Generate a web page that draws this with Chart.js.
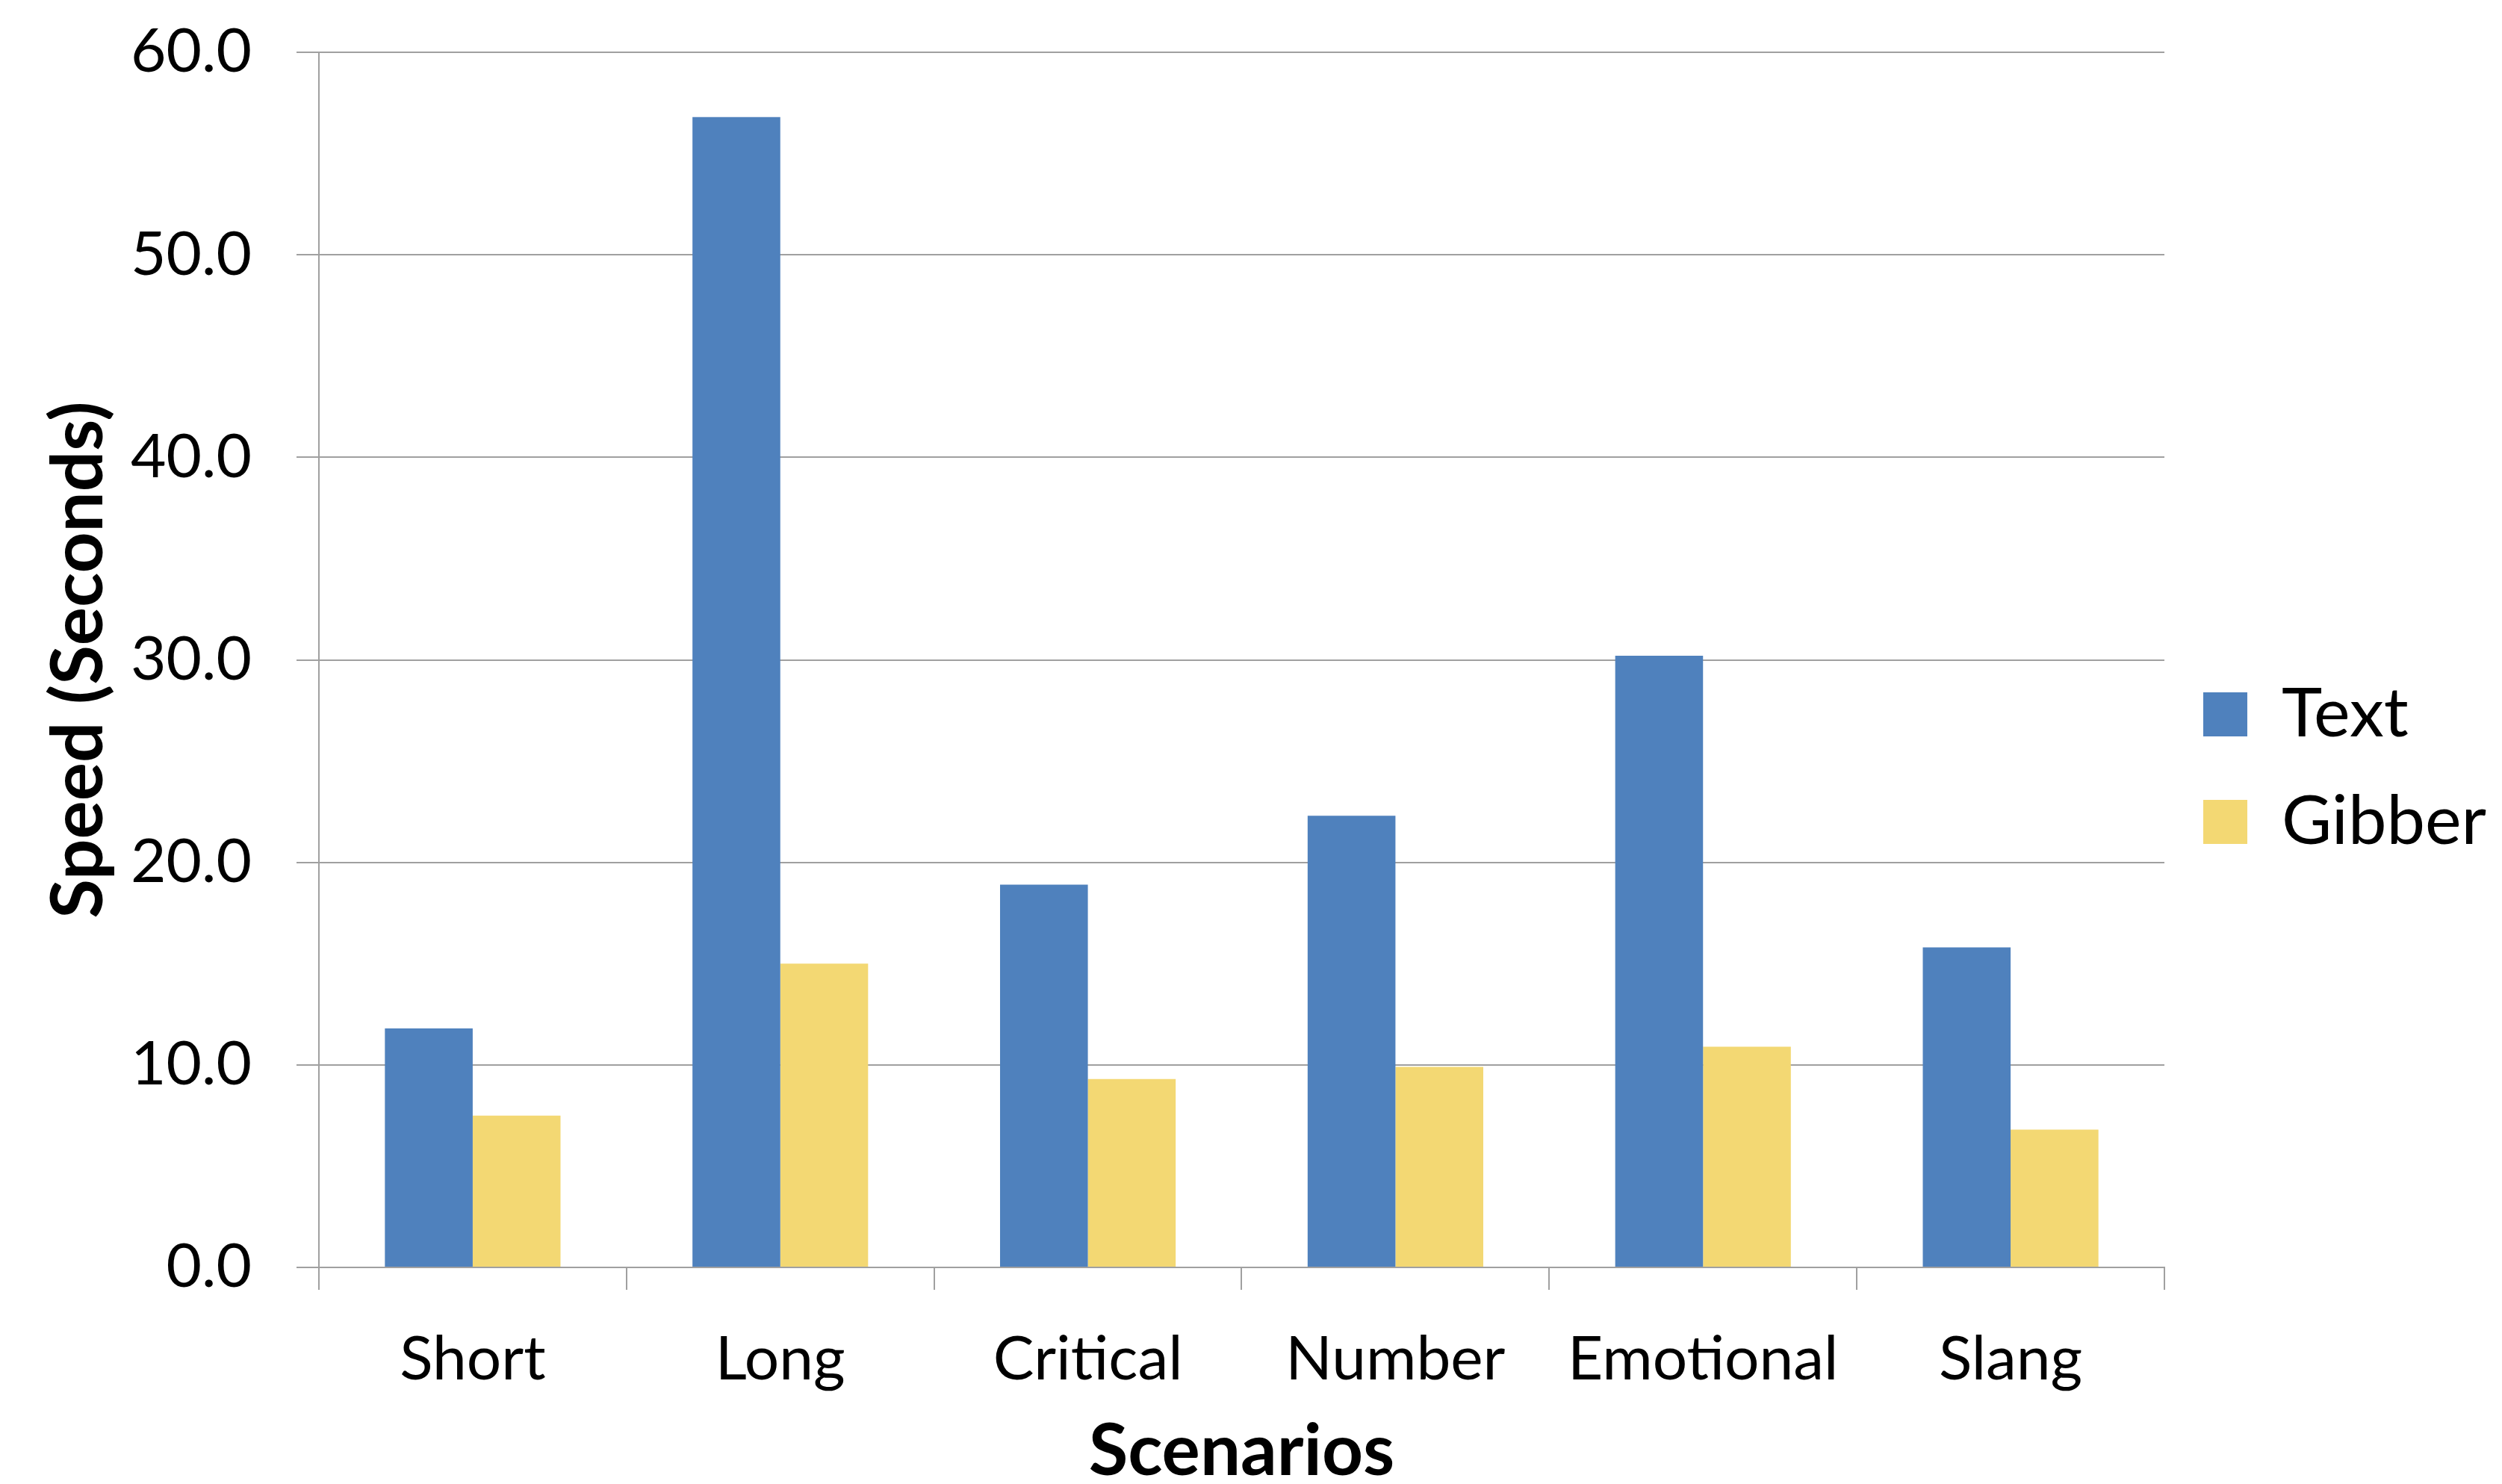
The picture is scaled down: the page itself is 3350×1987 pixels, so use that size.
<!DOCTYPE html>
<html>
<head>
<meta charset="utf-8">
<script src="https://cdn.jsdelivr.net/npm/chart.js@4/dist/chart.umd.min.js"></script>
<style>
  html, body { margin: 0; padding: 0; background: #ffffff; }
  #wrap { width: 3350px; height: 1987px; }
</style>
</head>
<body>
<div id="wrap"><canvas id="speed-chart" width="3350" height="1987"></canvas></div>
<script>
'use strict';

var scenarios = ['Short', 'Long', 'Critical', 'Number', 'Emotional', 'Slang'];
var textSpeed = [11.8, 56.8, 18.9, 22.3, 30.2, 15.8];
var gibberSpeed = [7.5, 15.0, 9.3, 9.9, 10.9, 6.8];
var yTicks = [0, 10, 20, 30, 40, 50, 60];

var gridGray = '#a0a0a0';
var font = 'Lato';

var ctx = document.getElementById('speed-chart').getContext('2d');
var chart = new Chart(ctx, {
    type: 'bar',
    data: {
        labels: scenarios,
        datasets: [{
            label: 'Text',
            backgroundColor: '#4f81bd',
            data: textSpeed
        }, {
            label: 'Gibber',
            backgroundColor: '#f3d873',
            data: gibberSpeed
        }]
    },
    options: {
        responsive: false,
        animation: false,
        devicePixelRatio: 1,
        layout: { padding: { left: 0, right: 11, top: 70, bottom: 0 } },
        categoryPercentage: 0.571,
        barPercentage: 1.0,
        plugins: {
            tooltip: { enabled: false },
            legend: {
                position: 'right',
                align: 'center',
                labels: {
                    color: '#000000',
                    font: { family: font, size: 92 },
                    boxWidth: 59,
                    boxHeight: 59,
                    padding: 52
                }
            }
        },
        scales: {
            x: {
                offset: true,
                grid: {
                    offset: true,
                    drawOnChartArea: false,
                    drawTicks: true,
                    tickLength: 30,
                    color: gridGray,
                    lineWidth: 2
                },
                border: { color: gridGray, width: 2 },
                ticks: {
                    color: '#000000',
                    font: { family: font, size: 82 },
                    padding: 44,
                    maxRotation: 0
                },
                title: {
                    display: true,
                    text: 'Scenarios',
                    color: '#000000',
                    font: { family: font, size: 96, weight: 'bold', lineHeight: 0.9 },
                    padding: 0
                },
                afterFit: function (scale) {
                    scale.height = 1987 - 1697;
                    scale.paddingLeft = 0;
                    scale.paddingRight = 0;
                }
            },
            y: {
                min: 0,
                max: 60,
                afterBuildTicks: function (scale) {
                    scale.ticks = yTicks.map(function (v) { return { value: v }; });
                },
                grid: {
                    color: gridGray,
                    lineWidth: 2,
                    tickLength: 30
                },
                border: { color: gridGray, width: 2 },
                ticks: {
                    color: '#000000',
                    font: { family: font, size: 82 },
                    padding: 60,
                    callback: function (v) { return Number(v).toFixed(1); }
                },
                title: {
                    display: true,
                    text: 'Speed (Seconds)',
                    color: '#000000',
                    font: { family: font, size: 96, weight: 'bold', lineHeight: 1.2 },
                    padding: { top: 48, bottom: 0 }
                },
                afterFit: function (scale) {
                    scale.width = 427;
                    scale.paddingTop = 0;
                    scale.paddingBottom = 0;
                }
            }
        }
    }
});
</script>
</body>
</html>
